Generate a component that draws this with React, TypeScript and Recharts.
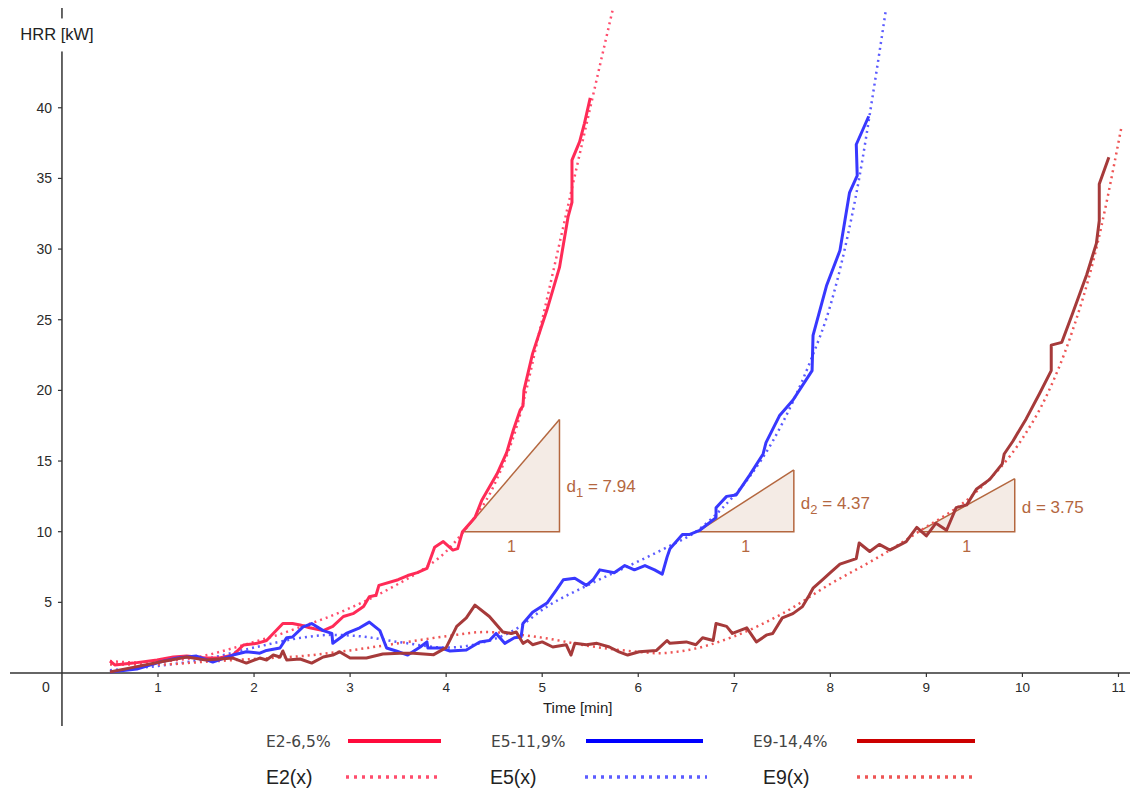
import { ComposedChart, Line, Area, XAxis, YAxis, ReferenceLine, ReferenceDot } from "recharts";

// measured heat release rate, time [min] / HRR [kW]
const e2Time = [0.5, 0.55, 0.74, 0.99, 1.16, 1.3, 1.5, 1.64, 1.78, 1.89, 2.03, 2.13, 2.3, 2.4, 2.48, 2.58, 2.72, 2.82, 2.93, 3.03, 3.14, 3.2, 3.27, 3.3, 3.5, 3.6, 3.7, 3.8, 3.88, 3.97, 4.07, 4.12, 4.17, 4.3, 4.37, 4.53, 4.63, 4.7, 4.77, 4.8, 4.81, 4.9, 5.05, 5.18, 5.27, 5.31, 5.31, 5.39, 5.44, 5.5];
const e2Hrr = [0.85, 0.57, 0.7, 0.92, 1.13, 1.2, 1.06, 1.06, 1.27, 1.98, 2.1, 2.3, 3.5, 3.5, 3.4, 3.2, 3.0, 3.3, 4.0, 4.2, 4.7, 5.4, 5.5, 6.2, 6.6, 6.9, 7.1, 7.4, 8.9, 9.3, 8.7, 8.8, 10.0, 11.0, 12.2, 14.1, 15.6, 17.2, 18.6, 18.9, 20.0, 22.6, 25.7, 28.7, 32.3, 33.3, 36.3, 37.6, 38.9, 40.7];

const e5Time = [0.5, 0.78, 1.02, 1.2, 1.4, 1.57, 1.78, 1.92, 2.06, 2.13, 2.27, 2.34, 2.4, 2.51, 2.6, 2.72, 2.81, 2.82, 2.96, 3.1, 3.2, 3.31, 3.38, 3.48, 3.6, 3.73, 3.8, 3.81, 3.95, 4.04, 4.21, 4.35, 4.45, 4.52, 4.61, 4.71, 4.78, 4.8, 4.9, 5.05, 5.15, 5.22, 5.34, 5.46, 5.53, 5.6, 5.75, 5.86, 5.96, 6.07, 6.17, 6.25, 6.3, 6.33, 6.46, 6.53, 6.64, 6.81, 6.81, 6.92, 7.02, 7.16, 7.3, 7.33, 7.47, 7.61, 7.81, 7.82, 7.96, 8.1, 8.2, 8.28, 8.27, 8.4];
const e5Hrr = [0.07, 0.28, 0.78, 1.06, 1.2, 0.78, 1.27, 1.5, 1.4, 1.6, 1.77, 2.5, 2.55, 3.26, 3.5, 3.0, 2.8, 2.1, 2.8, 3.2, 3.6, 3.0, 1.77, 1.56, 1.27, 1.84, 2.2, 1.77, 1.77, 1.56, 1.63, 2.2, 2.3, 2.8, 2.1, 2.5, 2.55, 3.5, 4.3, 4.95, 5.9, 6.6, 6.7, 6.2, 6.6, 7.3, 7.1, 7.6, 7.3, 7.6, 7.3, 7.0, 8.2, 8.8, 9.8, 9.8, 10.1, 11.0, 11.7, 12.5, 12.6, 14.0, 15.5, 16.3, 18.2, 19.3, 21.4, 23.9, 27.4, 29.9, 34.0, 35.2, 37.4, 39.4];

const e9Time = [0.5, 0.74, 1.02, 1.3, 1.5, 1.78, 1.92, 2.06, 2.13, 2.2, 2.27, 2.3, 2.34, 2.48, 2.6, 2.72, 2.82, 2.89, 3.0, 3.17, 3.34, 3.52, 3.66, 3.87, 4.0, 4.11, 4.21, 4.3, 4.45, 4.59, 4.68, 4.73, 4.8, 4.85, 4.9, 5.0, 5.11, 5.25, 5.3, 5.34, 5.46, 5.57, 5.7, 5.8, 5.89, 6.01, 6.19, 6.3, 6.33, 6.5, 6.6, 6.67, 6.78, 6.81, 6.92, 6.98, 7.13, 7.23, 7.34, 7.4, 7.5, 7.61, 7.71, 7.78, 7.82, 7.92, 8.0, 8.1, 8.27, 8.3, 8.41, 8.51, 8.62, 8.79, 8.9, 9.0, 9.1, 9.21, 9.31, 9.42, 9.52, 9.66, 9.79, 9.81, 9.9, 10.04, 10.18, 10.3, 10.3, 10.41, 10.52, 10.67, 10.77, 10.8, 10.8, 10.9];
const e9Hrr = [0.07, 0.4, 0.78, 1.13, 0.92, 1.06, 0.7, 1.06, 0.92, 1.27, 1.13, 1.56, 0.92, 0.99, 0.7, 1.13, 1.27, 1.5, 1.06, 1.06, 1.34, 1.4, 1.4, 1.3, 1.8, 3.3, 3.9, 4.8, 4.0, 2.9, 2.8, 2.9, 2.1, 2.3, 2.0, 2.2, 1.84, 2.0, 1.27, 2.1, 2.0, 2.1, 1.84, 1.5, 1.27, 1.5, 1.6, 2.3, 2.1, 2.2, 2.0, 2.5, 2.3, 3.5, 3.3, 2.8, 3.2, 2.2, 2.7, 2.8, 3.9, 4.2, 4.7, 5.5, 6.0, 6.6, 7.1, 7.7, 8.1, 9.2, 8.6, 9.1, 8.7, 9.3, 10.3, 9.7, 10.6, 10.1, 11.7, 11.9, 13.0, 13.7, 14.8, 15.5, 16.4, 18.0, 19.8, 21.4, 23.2, 23.4, 25.4, 28.2, 30.4, 32.0, 34.6, 36.5];

// fitted curves E2(x), E5(x), E9(x)
const e2FitTime = [0.5, 0.75, 1, 1.25, 1.5, 1.75, 2, 2.25, 2.5, 2.75, 3, 3.25, 3.5, 3.75, 4, 4.18, 4.5, 4.75, 5, 5.25, 5.5, 5.77];
const e2FitHrr = [0.85, 0.75, 0.8, 0.95, 1.25, 1.7, 2.2, 2.7, 3.3, 3.9, 4.6, 5.4, 6.3, 7.3, 8.6, 10.0, 13.3, 17.8, 25.0, 32.5, 40.0, 48.0];

const e5FitTime = [0.5, 1, 1.5, 2, 2.5, 2.8, 3.1, 3.5, 4, 4.35, 4.7, 5.05, 5.5, 6, 6.3, 6.62, 6.88, 7.16, 7.4, 7.61, 7.8, 8.0, 8.15, 8.3, 8.44, 8.58];
const e5FitHrr = [0.2, 0.5, 1.0, 1.8, 2.5, 2.7, 2.6, 2.2, 1.8, 2.1, 3.0, 4.7, 6.3, 7.9, 8.9, 10.1, 11.7, 13.9, 16.4, 19.2, 22.2, 26.0, 30.0, 35.0, 40.8, 47.0];

const e9FitTime = [0.5, 1, 1.5, 2, 2.5, 3, 3.5, 4, 4.4, 5, 5.5, 6, 6.2, 6.5, 7, 7.5, 8, 8.5, 8.92, 9.5, 10, 10.25, 10.5, 10.75, 11.03];
const e9FitHrr = [0.6, 0.6, 0.8, 1.0, 1.2, 1.6, 2.1, 2.6, 2.9, 2.5, 1.9, 1.5, 1.4, 1.6, 2.6, 4.2, 6.3, 8.2, 10.0, 12.7, 16.6, 19.6, 23.8, 29.5, 38.6];

// slope triangles
const slopeStart = [4.18, 6.62, 8.92];
const slopeRise = [7.94, 4.37, 3.75];
const slopeSub = ["1", "2", ""];
const slopeBase = 10;

const xTicks = [1, 2, 3, 4, 5, 6, 7, 8, 9, 10, 11];
const yTicks = [5, 10, 15, 20, 25, 30, 35, 40];

const seriesNames = ["E2-6,5%", "E5-11,9%", "E9-14,4%"];
const fitNames = ["E2(x)", "E5(x)", "E9(x)"];

const zip = (t: number[], v: number[]) => t.map((x, i) => ({ x, y: v[i] }));

const FONT = "'Liberation Sans', Arial, sans-serif";
const WIDE = "'DejaVu Sans', Verdana, sans-serif";
const AXIS = "#333";
const BROWN = "#b4673f";

const measuredColors = ["#ff2b57", "#3838ff", "#a63a3a"];
const fitColors = ["#ff4d6d", "#5c5cff", "#ee5555"];
const legendSolid = ["#ff0a3c", "#0000ff", "#cc0000"];
const measured = [zip(e2Time, e2Hrr), zip(e5Time, e5Hrr), zip(e9Time, e9Hrr)];
const fits = [zip(e2FitTime, e2FitHrr), zip(e5FitTime, e5FitHrr), zip(e9FitTime, e9FitHrr)];

// label offsets for the slope text (px)
const slopeLabelDy = [16, 8, 8];

// legend layout (page pixels)
const legTextX = [266, 491, 753];
const legLine = [[348, 441], [586, 703], [857, 975]];
const legFitTextX = [266, 490, 763];
const legFitLine = [[346, 441], [585, 707], [857, 977]];

export default function App() {
  return (
    <div style={{ position: "absolute", left: 0, top: 0, width: 1131, height: 790, background: "#fff" }}>
      <ComposedChart width={1131} height={790} margin={{ top: 8, right: 1, bottom: 64, left: 10 }}>
        <XAxis type="number" dataKey="x" domain={[-0.541, 11.12]} hide allowDataOverflow />
        <YAxis type="number" dataKey="y" domain={[-3.75, 47.06]} hide allowDataOverflow />

        <ReferenceLine y={0} stroke={AXIS} strokeWidth={1.5} />
        <ReferenceLine x={0} stroke={AXIS} strokeWidth={1.5} />

        {xTicks.map((v) => (
          <ReferenceDot
            key={"xt" + v}
            x={v}
            y={0}
            r={0}
            shape={(p: any) => (
              <g>
                <line x1={p.cx} x2={p.cx} y1={p.cy} y2={p.cy + 4} stroke={AXIS} strokeWidth={1.2} />
                <text x={p.cx} y={p.cy + 19} textAnchor="middle" fontFamily={FONT} fontSize={13.5} fill="#2a2a2a">
                  {v}
                </text>
              </g>
            )}
          />
        ))}
        {yTicks.map((v) => (
          <ReferenceDot
            key={"yt" + v}
            x={0}
            y={v}
            r={0}
            shape={(p: any) => (
              <g>
                <line x1={p.cx - 4} x2={p.cx} y1={p.cy} y2={p.cy} stroke={AXIS} strokeWidth={1.2} />
                <text x={p.cx - 10} y={p.cy + 5} textAnchor="end" fontFamily={FONT} fontSize={14} fill="#2a2a2a">
                  {v}
                </text>
              </g>
            )}
          />
        ))}
        <ReferenceDot
          x={0}
          y={0}
          r={0}
          shape={(p: any) => (
            <text x={p.cx - 16} y={p.cy + 19} textAnchor="middle" fontFamily={FONT} fontSize={14} fill="#2a2a2a">
              0
            </text>
          )}
        />
        <ReferenceDot
          x={0}
          y={45.4}
          r={0}
          shape={(p: any) => (
            <g>
              <rect x={p.cx - 48} y={p.cy - 13} width={92} height={33} fill="#fff" />
              <text x={p.cx - 5} y={p.cy + 9} textAnchor="middle" fontFamily={FONT} fontSize={16.5} fill="#222">
                HRR [kW]
              </text>
            </g>
          )}
        />
        <ReferenceDot
          x={5.37}
          y={0}
          r={0}
          shape={(p: any) => (
            <text x={p.cx} y={p.cy + 40} textAnchor="middle" fontFamily={FONT} fontSize={15} fill="#222">
              Time [min]
            </text>
          )}
        />

        {slopeStart.map((s, i) => (
          <Area
            key={"tri" + i}
            data={[{ x: s, y: slopeBase }, { x: s + 1, y: slopeBase + slopeRise[i] }]}
            dataKey="y"
            type="linear"
            baseValue={slopeBase}
            fill="#efe2da"
            fillOpacity={0.7}
            stroke={BROWN}
            strokeWidth={1.5}
            isAnimationActive={false}
          />
        ))}
        {slopeStart.map((s, i) => (
          <Line
            key={"edge" + i}
            data={[{ x: s, y: slopeBase }, { x: s + 1, y: slopeBase }, { x: s + 1, y: slopeBase + slopeRise[i] }]}
            dataKey="y"
            type="linear"
            stroke={BROWN}
            strokeWidth={1.5}
            dot={false}
            isAnimationActive={false}
          />
        ))}

        {fits.map((d, i) => (
          <Line
            key={"fit" + i}
            data={d}
            dataKey="y"
            type="monotone"
            stroke={fitColors[i]}
            strokeWidth={2.5}
            strokeDasharray="2 4"
            dot={false}
            isAnimationActive={false}
          />
        ))}
        {measured.map((d, i) => (
          <Line
            key={"m" + i}
            data={d}
            dataKey="y"
            type="linear"
            stroke={measuredColors[i]}
            strokeWidth={3}
            strokeLinejoin="round"
            dot={false}
            isAnimationActive={false}
          />
        ))}

        {slopeStart.map((s, i) => (
          <ReferenceDot
            key={"lbl" + i}
            x={s + 1}
            y={slopeBase + slopeRise[i] / 2}
            r={0}
            shape={(p: any) => (
              <text x={p.cx + 7} y={p.cy + slopeLabelDy[i]} fontFamily={FONT} fontSize={17} fill={BROWN}>
                d
                {slopeSub[i] && (
                  <tspan dy={5} fontSize={13}>
                    {slopeSub[i]}
                  </tspan>
                )}
                <tspan dy={slopeSub[i] ? -5 : 0}>{" = " + slopeRise[i].toFixed(2)}</tspan>
              </text>
            )}
          />
        ))}
        {slopeStart.map((s, i) => (
          <ReferenceDot
            key={"one" + i}
            x={s + 0.5}
            y={slopeBase}
            r={0}
            shape={(p: any) => (
              <text x={p.cx} y={p.cy + 20} textAnchor="middle" fontFamily={FONT} fontSize={16} fill={BROWN}>
                1
              </text>
            )}
          />
        ))}
      </ComposedChart>

      <svg width={1131} height={790} style={{ position: "absolute", left: 0, top: 0, pointerEvents: "none" }}>
        {seriesNames.map((n, i) => (
          <g key={n}>
            <text x={legTextX[i]} y={747} fontFamily={WIDE} fontSize={15.5} fill="#444">
              {n}
            </text>
            <line x1={legLine[i][0]} x2={legLine[i][1]} y1={741} y2={741} stroke={legendSolid[i]} strokeWidth={4} />
          </g>
        ))}
        {fitNames.map((n, i) => (
          <g key={n}>
            <text x={legFitTextX[i]} y={784} fontFamily={FONT} fontSize={19.5} fill="#222">
              {n}
            </text>
            <line
              x1={legFitLine[i][0]}
              x2={legFitLine[i][1]}
              y1={777}
              y2={777}
              stroke={fitColors[i]}
              strokeWidth={3.5}
              strokeDasharray="3 5"
            />
          </g>
        ))}
      </svg>
    </div>
  );
}
